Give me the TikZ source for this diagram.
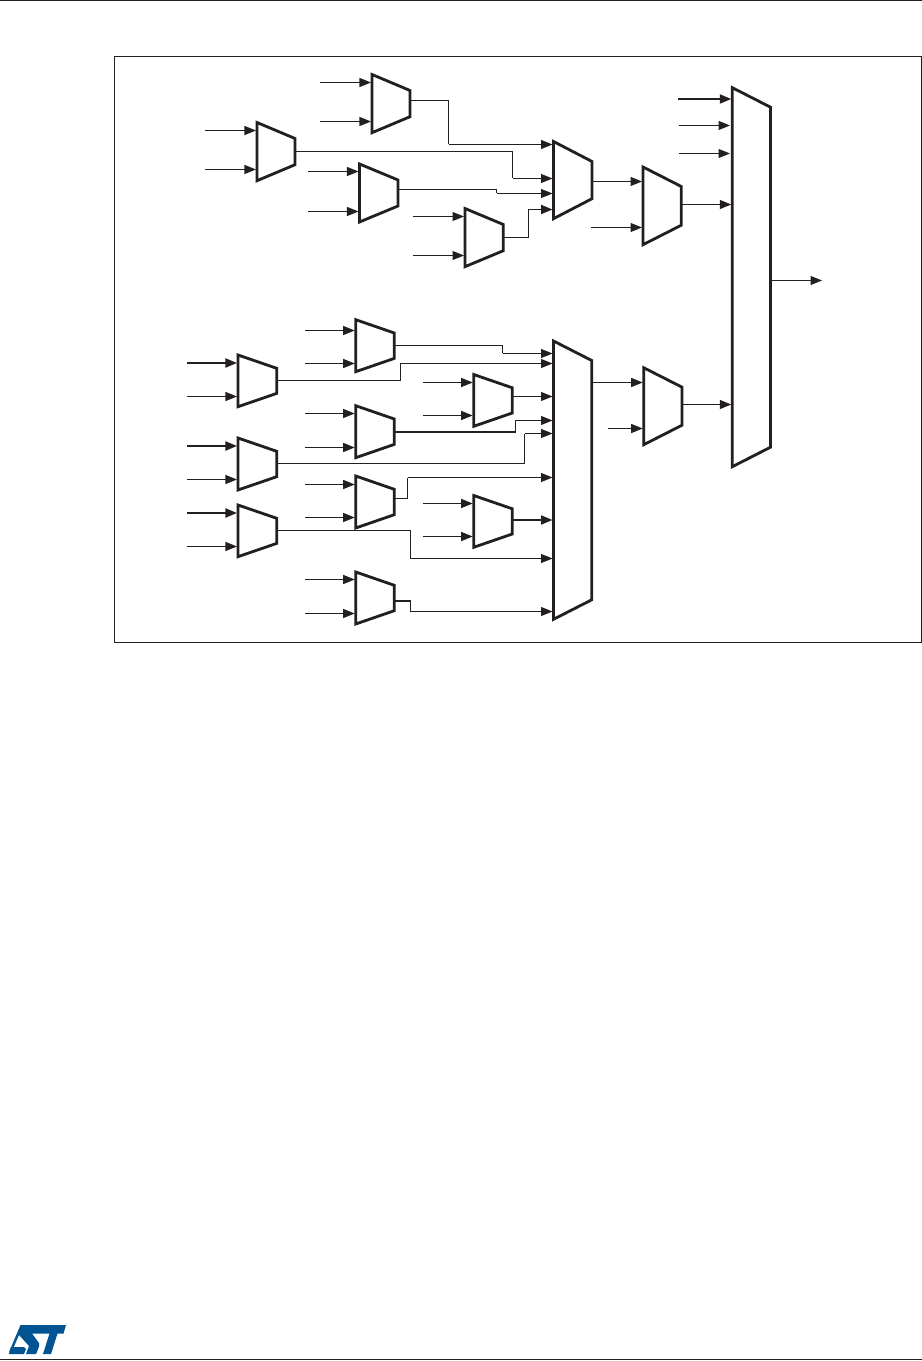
\documentclass[tikz,border=0pt]{standalone}
\usepackage{tikz}
\usetikzlibrary{arrows.meta}
\definecolor{stblue}{RGB}{0,84,145}
\definecolor{ink}{RGB}{35,31,32}
\tikzset{
  sig/.style={color=ink,line width=0.30pt},
  sigthick/.style={color=ink,line width=0.55pt},
  muxbody/.style={color=ink,line width=0.8pt,miter limit=4},
  tip/.style={-{Triangle[length=0.115cm,width=0.09cm]}},
}
% name, left x, right x, top y, bottom y, slant
\newcommand\muxcell[6]{
  \draw[muxbody] (#2,#4) coordinate (#1nw) -- (#3,#4+#6) coordinate (#1ne)
    -- (#3,#5-#6) coordinate (#1se) -- (#2,#5) coordinate (#1sw) -- cycle;
}
% name of free end, name of tip, start x, tip x, y
\newcommand\muxfeed[6][sig]{
  \coordinate (#2) at (#4,#6);
  \coordinate (#3) at (#5,#6);
  \draw[#1,tip] (#2) -- (#3);
}
\begin{document}
\begin{tikzpicture}[x=0.01cm,y=-0.01cm]
  \useasboundingbox (0,0) rectangle (922,1361);
  % page rules and frame
  \coordinate (headl) at (0,0.8);
  \coordinate (headr) at (922,0.8);
  \coordinate (footl) at (0,1359.5);
  \coordinate (footr) at (922,1359.5);
  \draw[color=ink,line width=0.35pt] (headl) -- (headr);
  \draw[color=ink,line width=0.35pt] (footl) -- (footr);
  \draw[color=ink,line width=0.35pt] (114.5,56.5) rectangle (921.3,642.5);
  % upper branch
  \muxcell{ma}{372}{410}{74.5}{132.7}{16}
  \muxfeed{mas1}{maa}{320}{371}{82.5}
  \muxfeed{mas2}{mab}{320}{371}{121.5}
  \coordinate (mao) at (410,100.5);
  \muxcell{mb}{257}{295}{122.5}{180.7}{16}
  \muxfeed{mbs1}{mba}{205}{256}{130.5}
  \muxfeed{mbs2}{mbb}{205}{256}{169.5}
  \coordinate (mbo) at (295,151.5);
  \muxcell{mc}{359.5}{398}{164}{222}{16}
  \muxfeed{mcs1}{mca}{308}{358.5}{171.5}
  \muxfeed{mcs2}{mcb}{308}{358.5}{211.5}
  \coordinate (mco) at (398,189.5);
  \muxcell{md}{465}{503.3}{208.5}{266.7}{16}
  \muxfeed{mds1}{mda}{413}{464}{216.5}
  \muxfeed{mds2}{mdb}{413}{464}{255.5}
  \coordinate (mdo) at (503.3,237.5);
  \muxcell{me}{553.5}{592}{141.5}{218.7}{20}
  \coordinate (mea) at (552.5,144.5);
  \coordinate (meb) at (552.5,178.5);
  \coordinate (mec) at (552.5,193.5);
  \coordinate (med) at (552.5,209.5);
  \coordinate (meo) at (592,181.5);
  \muxcell{mf}{643}{681.3}{167}{244.7}{19.5}
  \coordinate (mfa) at (642,181.5);
  \muxfeed{mfs2}{mfb}{591}{642}{227.5}
  \coordinate (mfo) at (681.3,204.5);
  \draw[sig] (mao) -| (448.5,144.5);
  \draw[sig,tip] (448.5,144.5) -- (mea);
  \draw[sig] (mbo) -| (512.5,178.5);
  \draw[sig,tip] (512.5,178.5) -- (meb);
  \draw[sig] (mco) -| (496.5,193.5);
  \draw[sig,tip] (496.5,193.5) -- (mec);
  \draw[sig] (mdo) -| (528.5,209.5);
  \draw[sigthick,tip] (528.5,209.5) -- (med);
  \draw[sig,tip] (meo) -- (mfa);
  % lower branch
  \muxcell{na}{238}{276.7}{355}{406.7}{13.3}
  \muxfeed[sigthick]{nas1}{naa}{187}{237}{363}
  \muxfeed{nas2}{nab}{187}{237}{396.5}
  \coordinate (nao) at (276.7,380.5);
  \muxcell{nb}{238}{276.7}{438}{490}{13.3}
  \muxfeed[sigthick]{nbs1}{nba}{187}{237}{446}
  \muxfeed{nbs2}{nbb}{187}{237}{479.5}
  \coordinate (nbo) at (276.7,463.5);
  \muxcell{nc}{238}{276.7}{505}{556.7}{13.3}
  \muxfeed[sigthick]{ncs1}{nca}{187}{237}{513}
  \muxfeed{ncs2}{ncb}{187}{237}{546.5}
  \coordinate (nco) at (276.7,530.5);
  \muxcell{oa}{355.7}{394.3}{319.7}{371.7}{13.3}
  \muxfeed{oas1}{oaa}{305}{354.7}{330.5}
  \muxfeed{oas2}{oab}{305}{354.7}{363.5}
  \coordinate (oao) at (394.3,345.5);
  \muxcell{ob}{355.7}{394.3}{405.7}{457.7}{13.3}
  \muxfeed{obs1}{oba}{305}{354.7}{413.5}
  \muxfeed{obs2}{obb}{305}{354.7}{447.5}
  \coordinate (obo) at (394.3,432);
  \muxcell{oc}{355.7}{394.3}{476}{528}{13.3}
  \muxfeed{ocs1}{oca}{305}{354.7}{484.5}
  \muxfeed{ocs2}{ocb}{305}{354.7}{517.5}
  \coordinate (oco) at (394.3,498.5);
  \muxcell{od}{355.7}{394.3}{572}{624}{13.3}
  \muxfeed{ods1}{oda}{305}{354.7}{579.5}
  \muxfeed{ods2}{odb}{305}{354.7}{613.5}
  \coordinate (odo) at (394.3,601);
  \muxcell{pa}{473.7}{512.3}{374.5}{426.3}{13.3}
  \muxfeed{pas1}{paa}{423}{472.7}{382.5}
  \muxfeed{pas2}{pab}{423}{472.7}{415.5}
  \coordinate (pao) at (512.3,396.5);
  \muxcell{pb}{473.7}{512.3}{495.5}{547.3}{13.3}
  \muxfeed{pbs1}{pba}{423}{472.7}{503.5}
  \muxfeed{pbs2}{pbb}{423}{472.7}{536.5}
  \coordinate (pbo) at (512.3,520);
  \muxcell{qa}{553.5}{591.7}{341}{619.3}{19.5}
  \coordinate (qaa) at (552.5,353.5);
  \coordinate (qab) at (552.5,363.5);
  \coordinate (qac) at (552.5,396.5);
  \coordinate (qad) at (552.5,420.5);
  \coordinate (qae) at (552.5,433.5);
  \coordinate (qaf) at (552.5,477.5);
  \coordinate (qag) at (552.5,520);
  \coordinate (qah) at (552.5,558.5);
  \coordinate (qai) at (552.5,611.5);
  \coordinate (qao) at (591.7,382.5);
  \muxcell{qb}{643.7}{682}{367.7}{444.7}{19.5}
  \coordinate (qba) at (642.7,382.5);
  \muxfeed{qbs2}{qbb}{608}{642.7}{428.5}
  \coordinate (qbo) at (682,404.5);
  \draw[sig] (oao) -| (502.5,353.5);
  \draw[sig,tip] (502.5,353.5) -- (qaa);
  \draw[sig] (nao) -| (400.5,363.5);
  \draw[sig,tip] (400.5,363.5) -- (qab);
  \draw[sig,tip] (pao) -- (qac);
  \draw[sigthick] (obo) -- (515.5,432);
  \draw[sig] (515.5,432) |- (528,420.5);
  \draw[sig,tip] (528,420.5) -- (qad);
  \draw[sig] (nbo) -| (524.5,433.5);
  \draw[sig,tip] (524.5,433.5) -- (qae);
  \draw[sig] (oco) -| (407.5,477.5);
  \draw[sig,tip] (407.5,477.5) -- (qaf);
  \draw[sigthick,tip] (pbo) -- (qag);
  \draw[sig] (nco) -| (410.5,558.5);
  \draw[sig,tip] (410.5,558.5) -- (qah);
  \draw[sigthick] (odo) -- (410.5,601);
  \draw[sig] (410.5,601) |- (430,611.5);
  \draw[sig,tip] (430,611.5) -- (qai);
  \draw[sig,tip] (qao) -- (qba);
  % output stage
  \muxcell{ra}{732.3}{770.5}{87.7}{466.7}{19.5}
  \muxfeed[sigthick]{ras1}{raa}{678}{731.3}{99}
  \muxfeed{ras2}{rab}{679}{730}{125.5}
  \muxfeed{ras3}{rac}{679}{730}{153.5}
  \coordinate (rad) at (731.3,204.5);
  \coordinate (rae) at (731.3,404.5);
  \coordinate (rao) at (770.5,280.5);
  \coordinate (raz) at (822,280.5);
  \draw[sig,tip] (mfo) -- (rad);
  \draw[sig,tip] (qbo) -- (rae);
  \draw[sig,tip] (rao) -- (raz);
  % logo
  \fill[stblue] (20.5,1325) -- (66,1325) -- (63.5,1333.5) -- (57.5,1333.5) -- (51,1354) -- (43,1354)
    -- (49.5,1333.5) -- (32,1333.5) -- (39,1343) .. controls (40,1345) and (39,1347) .. (36,1354)
    -- (26,1354) -- (29,1346) -- (19,1335) -- (12,1351) -- (9.5,1351) -- cycle;
  \fill[stblue] (9.5,1351) -- (11,1347) -- (24,1347) -- (26,1349) -- (24,1354) -- (9,1354) -- cycle;
\end{tikzpicture}
\end{document}
